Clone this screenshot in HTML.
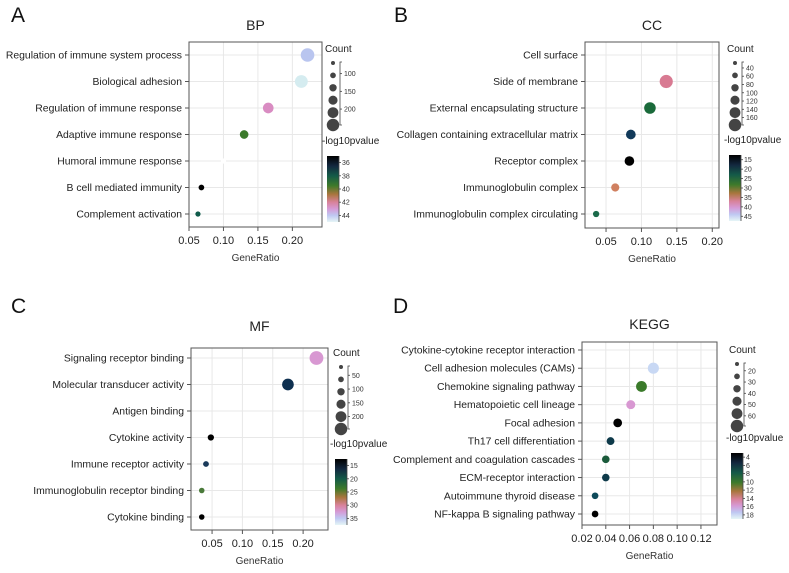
<!DOCTYPE html>
<html><head><meta charset="utf-8"><style>
body{margin:0;background:#fff}
svg{display:block;font-family:"Liberation Sans",sans-serif}
</style></head><body>
<svg id="fig" width="789" height="573" viewBox="0 0 789 573" xmlns="http://www.w3.org/2000/svg">
<defs>
<linearGradient id="cmap" x1="0" y1="0" x2="0" y2="1">
<stop offset="0" stop-color="#000"/><stop offset="0.15" stop-color="#13283f"/>
<stop offset="0.3" stop-color="#145a48"/><stop offset="0.45" stop-color="#3e7a2a"/>
<stop offset="0.58" stop-color="#a9763e"/><stop offset="0.7" stop-color="#d8829a"/>
<stop offset="0.8" stop-color="#d59ad6"/><stop offset="0.9" stop-color="#bfc8f2"/>
<stop offset="1" stop-color="#e6f6f6"/></linearGradient>
</defs>
</svg>
<script>
// ---- data ----
const bpTerms=["Regulation of immune system process","Biological adhesion","Regulation of immune response","Adaptive immune response","Humoral immune response","B cell mediated immunity","Complement activation"];
const bpRatio=[0.222,0.213,0.165,0.130,0.100,0.068,0.063];
const bpCount=[230,215,170,130,60,70,60];
const bpColor=["#b9c5ef","#d5ecf0","#d98cc2","#3b7a2b","#ffffff","#000000","#0f5a4a"];
const bpXTicks=[0.05,0.10,0.15,0.20];
const bpSizeTicks=[100,150,200];
const bpColorTicks=[36,38,40,42,44];

const ccTerms=["Cell surface","Side of membrane","External encapsulating structure","Collagen containing extracellular matrix","Receptor complex","Immunoglobulin complex","Immunoglobulin complex circulating"];
const ccRatio=[0.16,0.135,0.112,0.085,0.083,0.063,0.036];
const ccCount=[0,175,145,110,108,80,45];
const ccColor=["#ffffff","#d87a92","#1a6a3a","#123a5a","#000000","#d08060","#1a6a4a"];
const ccXTicks=[0.05,0.10,0.15,0.20];
const ccSizeTicks=[40,60,80,100,120,140,160];
const ccColorTicks=[15,20,25,30,35,40,45];

const mfTerms=["Signaling receptor binding","Molecular transducer activity","Antigen binding","Cytokine activity","Immune receptor activity","Immunoglobulin receptor binding","Cytokine binding"];
const mfRatio=[0.222,0.175,0.06,0.048,0.040,0.033,0.033];
const mfCount=[235,185,0,55,45,38,38];
const mfColor=["#d898d2","#0e3050","#ffffff","#000000","#1a3a5a","#4a7a3a","#000000"];
const mfXTicks=[0.05,0.10,0.15,0.20];
const mfSizeTicks=[50,100,150,200];
const mfColorTicks=[15,20,25,30,35];

const kgTerms=["Cytokine-cytokine receptor interaction","Cell adhesion molecules (CAMs)","Chemokine signaling pathway","Hematopoietic cell lineage","Focal adhesion","Th17 cell differentiation","Complement and coagulation cascades","ECM-receptor interaction","Autoimmune thyroid disease","NF-kappa B signaling pathway"];
const kgRatio=[0.09,0.080,0.070,0.061,0.050,0.044,0.040,0.040,0.031,0.031];
const kgCount=[0,52,50,38,36,30,28,28,22,22];
const kgColor=["#ffffff","#c8d8f4","#3a7a2a","#d898d2","#000000","#0e3a4a","#1a5a3a","#0e3a4a","#0e4a5a","#000000"];
const kgXTicks=[0.02,0.04,0.06,0.08,0.10,0.12];
const kgSizeTicks=[20,30,40,50,60];
const kgColorTicks=[4,6,8,10,12,14,16,18];

const svg=document.getElementById('fig');
const NS="http://www.w3.org/2000/svg";
function mk(tag,at,parent,txt){const e=document.createElementNS(NS,tag);for(const k in at)e.setAttribute(k,at[k]);if(txt!==undefined)e.textContent=txt;(parent||svg).appendChild(e);return e;}

function panel(o){
  const g=mk('g',{});
  
  
  const t1=mk('text',{x:o.letterX,y:o.letterY,'font-size':21,fill:'#111'},g,o.letter);
  
  
  const t2=mk('text',{x:(o.L+o.R)/2,y:o.titleY,'font-size':14,'text-anchor':'middle',fill:'#222'},g,o.title);
  
  
  const xs=v=>o.L+(v-o.x0)/(o.x1-o.x0)*(o.R-o.L);
  const n=o.terms.length;
  const ys=i=>o.y0+i*(o.yN-o.y0)/(n-1);
  const cmin=Math.min(...o.sizeTicks)*0.6, cmax=Math.max(...o.sizeTicks)*1.15;
  const rs=c=>c<=0?0:2.6+(Math.max(c,cmin)-cmin)/(cmax-cmin)*4.2;
  o.xticks.forEach(v=>{const l=mk('line',{x1:xs(v),x2:xs(v),y1:o.T,y2:o.B,stroke:'#e8e8e8','stroke-width':1},g);
    
    });
  o.terms.forEach((t,i)=>{const l=mk('line',{x1:o.L,x2:o.R,y1:ys(i),y2:ys(i),stroke:'#e8e8e8','stroke-width':1},g);
    
    });
  const fr=mk('rect',{x:o.L,y:o.T,width:o.R-o.L,height:o.B-o.T,fill:'none',stroke:'#555','stroke-width':1},g);
  
  
  o.xticks.forEach(v=>{mk('line',{x1:xs(v),x2:xs(v),y1:o.B,y2:o.B+4,stroke:'#555'},g);
    const tx=mk('text',{x:xs(v),y:o.B+17,'font-size':11,'text-anchor':'middle',fill:'#222'},g,v.toFixed(2));
    
    });
  const xt=mk('text',{x:(o.L+o.R)/2,y:o.B+34,'font-size':10,'text-anchor':'middle',fill:'#333'},g,'GeneRatio');
  
  
  o.terms.forEach((t,i)=>{mk('line',{x1:o.L-4,x2:o.L,y1:ys(i),y2:ys(i),stroke:'#555'},g);
    const tx=mk('text',{x:o.L-7,y:ys(i)+3.5,'font-size':10.4,'text-anchor':'end',fill:'#222'},g,t);
    
    
    const r=rs(o.count[i]);
    if(r>0){const c=mk('circle',{cx:xs(o.ratio[i]),cy:ys(i),r:r,fill:o.color[i]},g);
      
      }
  });
  const lc=mk('text',{x:o.legX,y:o.legY,'font-size':10,fill:'#222'},g,'Count');
  
  
  const nS=6, sy0=o.legY+11, sy1=o.legY+73;
  const cy=k=>sy0+k*(sy1-sy0)/(nS-1);
  for(let k=0;k<nS;k++){const c=mk('circle',{cx:o.legX+8,cy:cy(k),r:2+k*0.85,fill:'#444'},g);
    
    }
  const bx=o.legX+15;
  mk('path',{d:`M${bx+2},${sy0-1}H${bx}V${sy1}H${bx+2}`,fill:'none',stroke:'#444','stroke-width':0.8},g);
  const st=o.sizeTicks, sv0=st[0]-(st[1]-st[0])*0.6, sv1=st[st.length-1]+(st[1]-st[0])*0.9;
  st.forEach(v=>{const y=sy0+(v-sv0)/(sv1-sv0)*(sy1-sy0);
    mk('line',{x1:bx,x2:bx+2,y1:y,y2:y,stroke:'#444','stroke-width':0.8},g);
    const tx=mk('text',{x:bx+4,y:y+2.5,'font-size':7,fill:'#333'},g,v);
    
    });
  const lt=mk('text',{x:o.legX-3,y:o.cbY-12,'font-size':10,fill:'#222'},g,'-log10pvalue');
  
  
  const cbx=o.legX+2, cbh=66;
  const cb=mk('rect',{x:cbx,y:o.cbY,width:12,height:cbh,fill:'url(#cmap)'},g);
  
  
  mk('line',{x1:cbx+12,x2:cbx+12,y1:o.cbY,y2:o.cbY+cbh,stroke:'#444','stroke-width':0.8},g);
  const ct=o.colorTicks, step=ct[1]-ct[0], cv0=ct[0]-step*0.5, cv1=ct[ct.length-1]+step*0.5;
  ct.forEach(v=>{const y=o.cbY+(v-cv0)/(cv1-cv0)*cbh;
    mk('line',{x1:cbx+12,x2:cbx+14,y1:y,y2:y,stroke:'#444','stroke-width':0.8},g);
    const tx=mk('text',{x:cbx+15,y:y+2.5,'font-size':7,fill:'#333'},g,v);
    
    });
}

panel({id:'bp',letter:'A',letterX:11,letterY:22,title:'BP',titleY:30,L:189,R:322,T:42,B:227,y0:55,yN:214,x0:0.05,x1:0.243,
  terms:bpTerms,ratio:bpRatio,count:bpCount,color:bpColor,xticks:bpXTicks,sizeTicks:bpSizeTicks,colorTicks:bpColorTicks,legX:325,legY:52,cbY:156});
panel({id:'cc',letter:'B',letterX:394,letterY:22,title:'CC',titleY:30,L:585,R:719,T:42,B:228,y0:55,yN:214,x0:0.0203,x1:0.2095,
  terms:ccTerms,ratio:ccRatio,count:ccCount,color:ccColor,xticks:ccXTicks,sizeTicks:ccSizeTicks,colorTicks:ccColorTicks,legX:727,legY:52,cbY:155});
panel({id:'mf',letter:'C',letterX:11,letterY:313,title:'MF',titleY:331,L:191,R:328,T:348,B:530,y0:358,yN:517,x0:0.0153,x1:0.241,
  terms:mfTerms,ratio:mfRatio,count:mfCount,color:mfColor,xticks:mfXTicks,sizeTicks:mfSizeTicks,colorTicks:mfColorTicks,legX:333,legY:356,cbY:459});
panel({id:'kegg',letter:'D',letterX:393,letterY:313,title:'KEGG',titleY:329,L:582,R:717,T:342,B:525,y0:350,yN:514,x0:0.02,x1:0.1335,
  terms:kgTerms,ratio:kgRatio,count:kgCount,color:kgColor,xticks:kgXTicks,sizeTicks:kgSizeTicks,colorTicks:kgColorTicks,legX:729,legY:353,cbY:453});
</script>
</body></html>
